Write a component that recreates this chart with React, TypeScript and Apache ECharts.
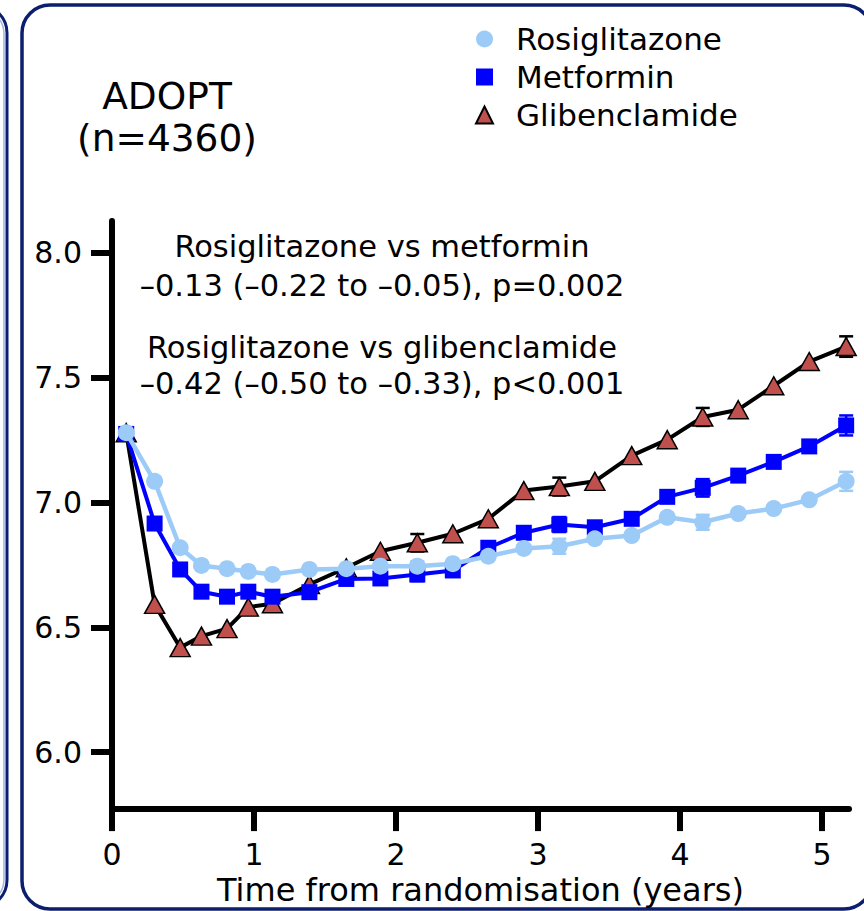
import React, { useEffect, useRef } from "react";
import * as echarts from "echarts";

// ---- data ----
const times = [0.1, 0.3, 0.48, 0.63, 0.81, 0.96, 1.13, 1.39, 1.65, 1.89, 2.15, 2.4, 2.65, 2.9, 3.15, 3.4, 3.66, 3.91, 4.16, 4.41, 4.66, 4.91, 5.17];
const rosiglitazone = [7.28, 7.085, 6.819, 6.748, 6.735, 6.724, 6.712, 6.732, 6.735, 6.745, 6.745, 6.755, 6.785, 6.816, 6.825, 6.855, 6.868, 6.941, 6.921, 6.956, 6.976, 7.011, 7.085];
const metformin = [7.275, 6.916, 6.732, 6.643, 6.623, 6.643, 6.623, 6.641, 6.694, 6.696, 6.712, 6.728, 6.819, 6.879, 6.912, 6.901, 6.935, 7.023, 7.059, 7.108, 7.163, 7.225, 7.309];
const glibenclamide = [7.28, 6.592, 6.419, 6.465, 6.495, 6.581, 6.595, 6.672, 6.739, 6.805, 6.839, 6.875, 6.935, 7.048, 7.064, 7.085, 7.188, 7.252, 7.343, 7.372, 7.468, 7.565, 7.625];

const errIndex = [10, 14, 18, 22];
const rosiErr = [0.02, 0.03, 0.03, 0.038];
const metErr = [0.027, 0.03, 0.035, 0.04];
const glibErr = [0.035, 0.036, 0.036, 0.041];

const yTicks = [6.0, 6.5, 7.0, 7.5, 8.0];
const seriesNames = ["Rosiglitazone", "Metformin", "Glibenclamide"];
const titleLines = ["ADOPT", "(n=4360)"];
const annotationLines = [
  "Rosiglitazone vs metformin",
  "–0.13 (–0.22 to –0.05), p=0.002",
  "Rosiglitazone vs glibenclamide",
  "–0.42 (–0.50 to –0.33), p<0.001",
];
const xAxisName = "Time from randomisation (years)";

const FONT = "DejaVu Sans";
const NAVY = "#0b1f6e";
const ROSI = "#9ccbf8";
const MET = "#0000ff";
const GLIB = "#c0504d";

function pairs(vals: number[]) {
  return times.map((t, i) => [t, vals[i]]);
}
function errData(vals: number[], errs: number[]) {
  return errIndex.map((idx, k) => [times[idx], vals[idx], errs[k]]);
}
function errSeries(vals: number[], errs: number[], color: string) {
  return {
    type: "custom",
    data: errData(vals, errs),
    encode: { x: 0, y: 1 },
    z: 1,
    silent: true,
    renderItem: (params: any, api: any) => {
      const x = api.value(0);
      const y = api.value(1);
      const e = api.value(2);
      const top = api.coord([x, y + e]);
      const bot = api.coord([x, y - e]);
      const hw = 7;
      const st = { stroke: color, lineWidth: 2.5 };
      return {
        type: "group",
        children: [
          { type: "line", shape: { x1: top[0], y1: top[1], x2: bot[0], y2: bot[1] }, style: st },
          { type: "line", shape: { x1: top[0] - hw, y1: top[1], x2: top[0] + hw, y2: top[1] }, style: st },
          { type: "line", shape: { x1: bot[0] - hw, y1: bot[1], x2: bot[0] + hw, y2: bot[1] }, style: st },
        ],
      };
    },
  };
}

export default function App() {
  const ref = useRef<HTMLDivElement>(null);
  useEffect(() => {
    if (!ref.current) return;
    const chart = echarts.init(ref.current, null, { renderer: "svg" });
    const axisText = { color: "#000", fontFamily: FONT, fontSize: 30 };
    chart.setOption({
      animation: false,
      backgroundColor: "#fff",
      textStyle: { fontFamily: FONT },
      grid: { left: 112, right: 15, top: 221, bottom: 101, containLabel: false },
      legend: {
        orient: "vertical",
        left: 475,
        top: 22,
        padding: 0,
        itemGap: 4,
        itemWidth: 17,
        itemHeight: 17,
        textStyle: { fontFamily: FONT, fontSize: 31, color: "#000", lineHeight: 34, padding: [0, 0, 0, 18] },
        data: [
          { name: seriesNames[0], icon: "circle" },
          { name: seriesNames[1], icon: "rect" },
          { name: seriesNames[2], icon: "triangle" },
        ],
      },
      xAxis: {
        type: "value",
        min: 0,
        max: 5.19,
        interval: 1,
        axisLine: { show: true, lineStyle: { color: "#000", width: 6 } },
        axisTick: { show: true, length: 22, lineStyle: { color: "#000", width: 6 } },
        axisLabel: { ...axisText, margin: 30, showMaxLabel: false, formatter: (v: number) => String(Math.round(v)) },
        splitLine: { show: false },
        name: xAxisName,
        nameLocation: "middle",
        nameGap: 63,
        nameTextStyle: { ...axisText, fontSize: 32 },
      },
      yAxis: {
        type: "value",
        min: 5.772,
        max: 8.128,
        axisLine: { show: true, lineStyle: { color: "#000", width: 6 } },
        axisTick: { show: true, length: 21, customValues: yTicks, lineStyle: { color: "#000", width: 6 } },
        axisLabel: { ...axisText, margin: 30, customValues: yTicks, formatter: (v: number) => v.toFixed(1) },
        splitLine: { show: false },
      },
      graphic: [
        {
          type: "rect",
          shape: { x: -600, y: 5, width: 607, height: 903, r: 28 },
          style: { fill: "none", stroke: NAVY, lineWidth: 3 },
          silent: true,
        },
        {
          type: "rect",
          shape: { x: -600, y: 8, width: 604, height: 897, r: 26 },
          style: { fill: "none", stroke: "#9fb3e0", lineWidth: 1.5 },
          silent: true,
        },
        {
          type: "rect",
          shape: { x: 22, y: 5, width: 850, height: 904, r: 28 },
          style: { fill: "none", stroke: NAVY, lineWidth: 3.5 },
          silent: true,
        },
        {
          type: "text",
          x: 167,
          y: 96,
          style: { text: titleLines[0], font: `37.5px '${FONT}'`, fill: "#000", align: "center", verticalAlign: "middle" },
        },
        {
          type: "text",
          x: 167,
          y: 138,
          style: { text: titleLines[1], font: `37.5px '${FONT}'`, fill: "#000", align: "center", verticalAlign: "middle" },
        },
        ...annotationLines.map((t, i) => ({
          type: "text",
          x: 382,
          y: [246, 285, 347, 383][i],
          style: { text: t, font: `30.5px '${FONT}'`, fill: "#000", align: "center", verticalAlign: "middle" },
        })),
      ],
      series: [
        errSeries(glibenclamide, glibErr, "#000"),
        errSeries(metformin, metErr, MET),
        errSeries(rosiglitazone, rosiErr, ROSI),
        {
          name: seriesNames[2],
          type: "line",
          data: pairs(glibenclamide),
          symbol: "triangle",
          symbolSize: [20, 18],
          lineStyle: { color: "#000", width: 4 },
          itemStyle: { color: GLIB, borderColor: "#000", borderWidth: 1.5 },
          z: 2,
        },
        {
          name: seriesNames[1],
          type: "line",
          data: pairs(metformin),
          symbol: "rect",
          symbolSize: 16,
          lineStyle: { color: MET, width: 4 },
          itemStyle: { color: MET },
          z: 3,
        },
        {
          name: seriesNames[0],
          type: "line",
          data: pairs(rosiglitazone),
          symbol: "circle",
          symbolSize: 17,
          lineStyle: { color: ROSI, width: 4.5 },
          itemStyle: { color: ROSI },
          z: 4,
        },
      ],
    });
    return () => chart.dispose();
  }, []);
  return (
    <div
      ref={ref}
      style={{ position: "fixed", left: 0, top: 0, width: 864, height: 911 }}
    />
  );
}
